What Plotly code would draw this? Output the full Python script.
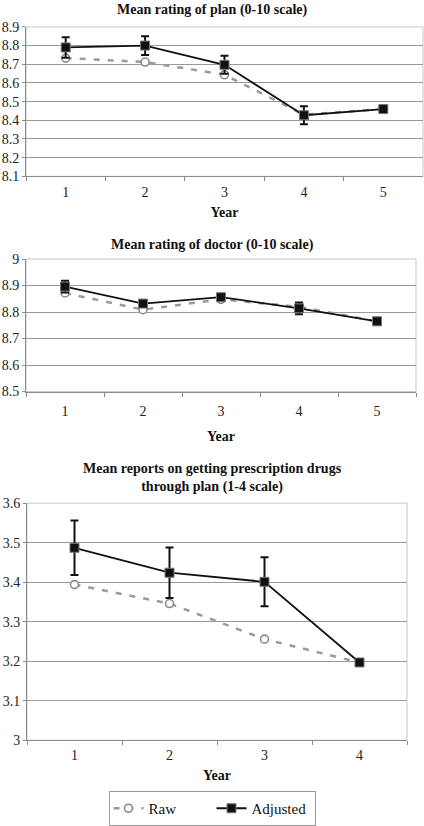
import plotly.graph_objects as go

# ---------------- data ----------------
years5 = ["1", "2", "3", "4", "5"]
years4 = ["1", "2", "3", "4"]

plan_raw = [8.733, 8.712, 8.644, 8.43, 8.46]
plan_adj = [8.79, 8.80, 8.697, 8.427, 8.46]
plan_err = [0.055, 0.05, 0.048, 0.048, 0.0]

doctor_raw = [8.872, 8.809, 8.848, 8.82, 8.765]
doctor_adj = [8.896, 8.832, 8.856, 8.814, 8.765]
doctor_err = [0.022, 0.012, 0.012, 0.022, 0.0]

drugs_raw = [3.394, 3.346, 3.256, 3.197]
drugs_adj = [3.487, 3.424, 3.401, 3.197]
drugs_err = [0.069, 0.064, 0.062, 0.0]

titles = [
    "Mean rating of plan (0-10 scale)",
    "Mean rating of doctor (0-10 scale)",
    "Mean reports on getting prescription drugs<br>through plan (1-4 scale)",
]
x_title = "Year"
series_names = ["Raw", "Adjusted"]

FONT = "Liberation Serif"
W, H = 424, 826

fig = go.Figure()

panels = [
    (years5, plan_raw, plan_adj, plan_err, "x", "y"),
    (years5, doctor_raw, doctor_adj, doctor_err, "x2", "y2"),
    (years4, drugs_raw, drugs_adj, drugs_err, "x3", "y3"),
]

for i, (xs, raw, adj, err, xa, ya) in enumerate(panels):
    last = i == 2
    fig.add_trace(go.Scatter(
        x=xs, y=raw, xaxis=xa, yaxis=ya, name=series_names[0],
        mode="lines+markers", showlegend=last, legendgroup="raw",
        line=dict(color="#9a9a9a", width=2.5, dash="6px,8px"),
        marker=dict(symbol="circle", size=8, color="white",
                    line=dict(width=1.6, color="#8a8a8a")),
    ))
    fig.add_trace(go.Scatter(
        x=xs, y=adj, xaxis=xa, yaxis=ya, name=series_names[1],
        mode="lines+markers", showlegend=last, legendgroup="adj",
        line=dict(color="#111111", width=1.8),
        marker=dict(symbol="square", size=9, color="#111111",
                    line=dict(width=1, color="#777777")),
        error_y=dict(type="data", array=err, visible=True,
                     color="#111111", thickness=2, width=4),
    ))

def px(v):
    return v / W

def py(v):
    return 1 - v / H

axis_common = dict(
    showgrid=False, showline=True, linecolor="#8c8c8c", mirror=False,
    ticks="outside", ticklen=4, tickcolor="#8c8c8c",
    tickfont=dict(family=FONT, size=14, color="#222"),
    fixedrange=True, automargin=False,
)
yaxis_common = dict(
    showgrid=True, gridcolor="#9a9a9a", gridwidth=1,
    showline=True, linecolor="#8c8c8c",
    ticks="outside", ticklen=3, tickcolor="#8c8c8c",
    tickfont=dict(family=FONT, size=14, color="#222"),
    zeroline=False, fixedrange=True, automargin=False,
)

# geometry (pixels) of each plot area: left, right, top, bottom
geo = [(26, 423, 27, 177), (26, 416, 260, 393), (27, 407, 505, 743)]
yranges = [(8.1, 8.9, 0.1), (8.5, 9.0, 0.1), (3.0, 3.6, 0.1)]
ncats = [len(years5), len(years5), len(years4)]
label_off = [3, 7, 2]
title_off = [8, 12, 8]

layout_axes = {}
for i, ((l, r, t, b), (y0, y1, dt), n) in enumerate(zip(geo, yranges, ncats)):
    sfx = "" if i == 0 else str(i + 1)
    layout_axes["xaxis" + sfx] = dict(
        axis_common, type="category", tickson="boundaries",
        range=[-0.5, n - 0.5], ticklabelstandoff=label_off[i],
        domain=[px(l), px(r)], anchor="y" + sfx,
        title=dict(text="<b>%s</b>" % x_title, standoff=title_off[i],
                   font=dict(family=FONT, size=14, color="#111")),
    )
    layout_axes["yaxis" + sfx] = dict(
        yaxis_common, domain=[py(b), py(t)], anchor="x" + sfx,
        range=[y0, y1], dtick=dt, tick0=y0,
    )
    fig.add_shape(type="rect", xref="x%s domain" % sfx, yref="y%s domain" % sfx,
                  x0=0, x1=1, y0=0, y1=1, line=dict(color="#c8c8c8", width=1),
                  layer="below")

fig.update_layout(**layout_axes)

title_pos = [10, 246, 480]
for txt, yc in zip(titles, title_pos):
    fig.add_annotation(
        text="<b>%s</b>" % txt, xref="paper", yref="paper",
        x=0.5, y=py(yc), xanchor="center", yanchor="middle",
        showarrow=False, font=dict(family=FONT, size=14, color="#111"),
    )

fig.update_layout(
    width=W, height=H,
    margin=dict(l=0, r=0, t=0, b=0),
    paper_bgcolor="white", plot_bgcolor="white",
    font=dict(family=FONT, size=14, color="#111"),
    legend=dict(orientation="h", x=0.5, xanchor="center",
                y=py(794), yanchor="top",
                bordercolor="#9a9a9a", borderwidth=1,
                font=dict(family=FONT, size=15, color="#111"),
                entrywidth=58, tracegroupgap=0),
)

fig.write_html("out.html", config={"displayModeBar": False},
               post_script="document.body.style.margin='0';")
